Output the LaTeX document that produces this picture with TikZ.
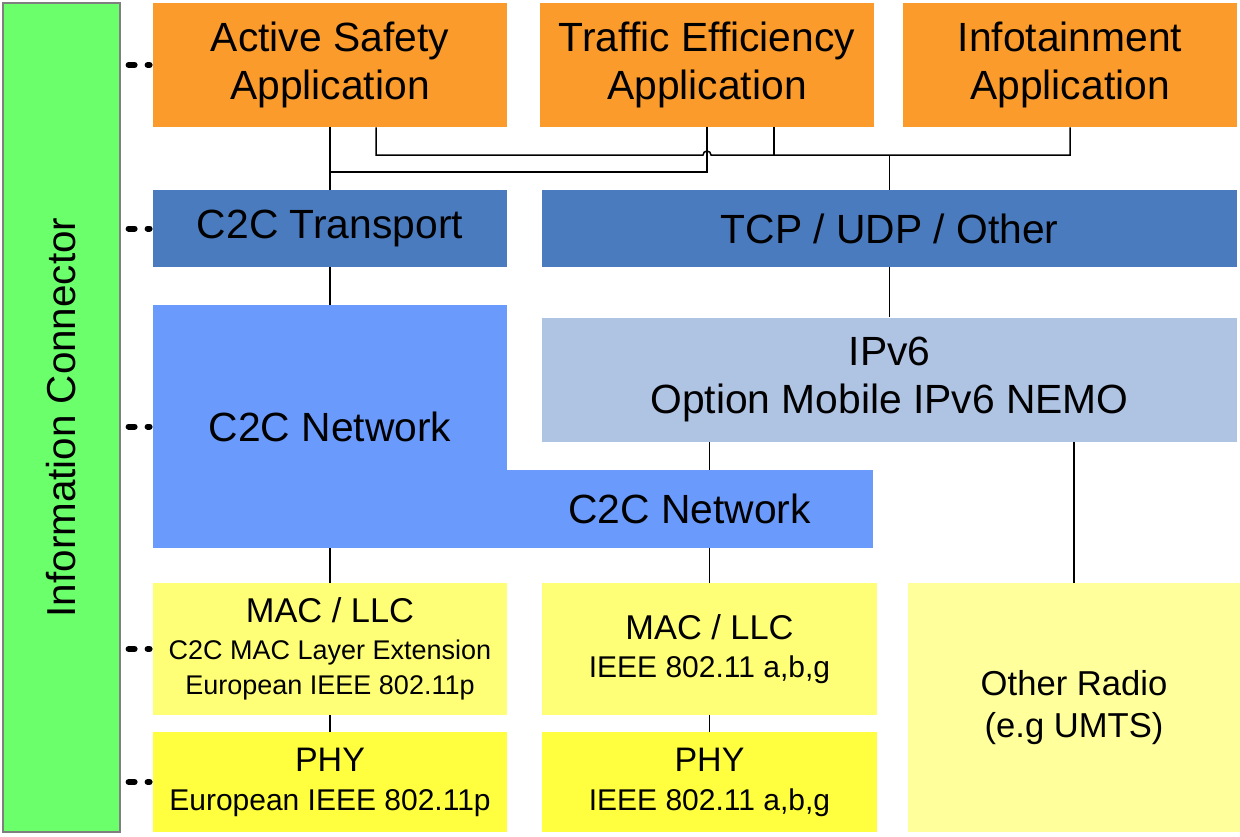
\documentclass[tikz,border=0pt]{standalone}
\usepackage{fontspec}
\setmainfont{Liberation Sans}
\usetikzlibrary{calc}
\definecolor{cGreen}{HTML}{6CFF6C}
\definecolor{cOrange}{HTML}{FA9B2C}
\definecolor{cDarkBlue}{HTML}{4A7BBE}
\definecolor{cMidBlue}{HTML}{6A9BFC}
\definecolor{cLightBlue}{HTML}{AFC3E3}
\definecolor{cMacYellow}{HTML}{FFFF77}
\definecolor{cPhyYellow}{HTML}{FFFF40}
\definecolor{cRadioYellow}{HTML}{FFFF9C}
\definecolor{cGray}{HTML}{7F7F7F}
\tikzset{
  layer/.style={
    rectangle, fill=#1, inner sep=0pt, align=center,
    font=\fontsize{20.4}{24}\selectfont
  },
  appbox/.style={layer=cOrange, minimum height=62pt},
  tbox/.style={layer=cDarkBlue, minimum height=38.5pt},
  lowbox/.style={layer=#1, minimum height=66pt},
  phybox/.style={layer=cPhyYellow, minimum height=50pt,
    font=\fontsize{15}{19.5}\selectfont},
  link/.style={line width=0.75pt, black},
  tap/.style={line width=3pt, line cap=round,
    dash pattern=on 3pt off 6.5pt, shorten <=4pt, shorten >=1.5pt},
}

\begin{document}
\begin{tikzpicture}[x=0.5pt, y=-0.5pt]
  \useasboundingbox (0,0) rectangle (1240,836);

  % Information connector
  \node[layer=cGreen, draw=cGray, line width=0.6pt, minimum width=58.5pt,
        minimum height=414.5pt] (conn) at (61.5,417.5) {};
  \node[rotate=90, font=\fontsize{20.2}{24}\selectfont] (connlabel) at (conn.center)
    {Information Connector};

  % Applications
  \node[appbox, minimum width=177pt] (asafe) at (330,65)
    {Active Safety\\Application};
  \node[appbox, minimum width=167pt] (traffic) at (707,65)
    {Traffic Efficiency\\Application};
  \node[appbox, minimum width=167pt] (infot) at (1070,65)
    {Infotainment\\Application};

  % Transport
  \node[tbox, minimum width=177pt] (trans) at (330,228.5) {C2C Transport};
  \node[tbox, minimum width=347.5pt] (tcp) at (889.5,228.5) {TCP / UDP / Other};

  % Network
  \node[layer=cMidBlue, minimum width=177pt, minimum height=121.5pt] (netl)
    at (330,426.5) {C2C Network};
  \node[layer=cMidBlue, minimum width=183.5pt, minimum height=39pt] (netr)
    at (689.5,509) {C2C Network};
  \node[layer=cLightBlue, minimum width=347.5pt, minimum height=62pt] (ipv)
    at (889.5,379.5) {IPv6\\Option Mobile IPv6 NEMO};

  % MAC / LLC
  \node[lowbox=cMacYellow, minimum width=177pt,
        font=\fontsize{13.5}{17.5}\selectfont] (macl) at (330,649)
    {{\fontsize{17.2}{18.5}\selectfont MAC / LLC}\\[1pt]
     C2C MAC Layer Extension\\
     European IEEE 802.11p};
  \node[lowbox=cMacYellow, minimum width=167.5pt,
        font=\fontsize{15}{19}\selectfont] (macm) at (709.5,649)
    {{\fontsize{17.2}{19}\selectfont MAC / LLC}\\
     IEEE 802.11 a,b,g};
  \node[layer=cRadioYellow, minimum width=166pt, minimum height=124.5pt,
        font=\fontsize{17.3}{21}\selectfont] (radio) at (1074,707.5)
    {Other Radio\\(e.g UMTS)};

  % PHY
  \node[phybox, minimum width=177pt] (phyl) at (330,782)
    {{\fontsize{17}{19.5}\selectfont PHY}\\
     European IEEE 802.11p};
  \node[phybox, minimum width=167.5pt] (phym) at (709.5,782)
    {{\fontsize{17}{19.5}\selectfont PHY}\\
     IEEE 802.11 a,b,g};

  % Application links
  \coordinate (busA) at (0,172);
  \coordinate (busB) at (0,155);
  \draw[link] (asafe.south) -- (trans.north);
  \draw[link] (traffic.south) |- (asafe.south |- busA);
  \draw[link] ($(asafe.south)+(46,0)$) |- ($(traffic.south |- busB)+(-4,0)$)
    arc[start angle=180, end angle=0, radius=2pt] -| (infot.south);
  \draw[link] ($(traffic.south)+(67,0)$) -- ($(traffic.south |- busB)+(67,0)$);
  \draw[link] (tcp.north) -- (tcp.north |- busB);

  % Layer links
  \draw[link] (trans.south) -- (netl.north);
  \draw[link] (tcp.south) -- (ipv.north);
  \draw[link] (ipv.south -| macm.north) -- (netr.north -| macm.north);
  \draw[link] (ipv.south -| radio.north) -- (radio.north);
  \draw[link] (netl.south) -- (macl.north);
  \draw[link] (netr.south -| macm.north) -- (macm.north);
  \draw[link] (macl.south) -- (phyl.north);
  \draw[link] (macm.south) -- (phym.north);

  % Connector taps
  \foreach \lay in {asafe, trans, netl, macl, phyl}
    \draw[tap] (conn.east |- \lay.west) -- (\lay.west);

\end{tikzpicture}
\end{document}
